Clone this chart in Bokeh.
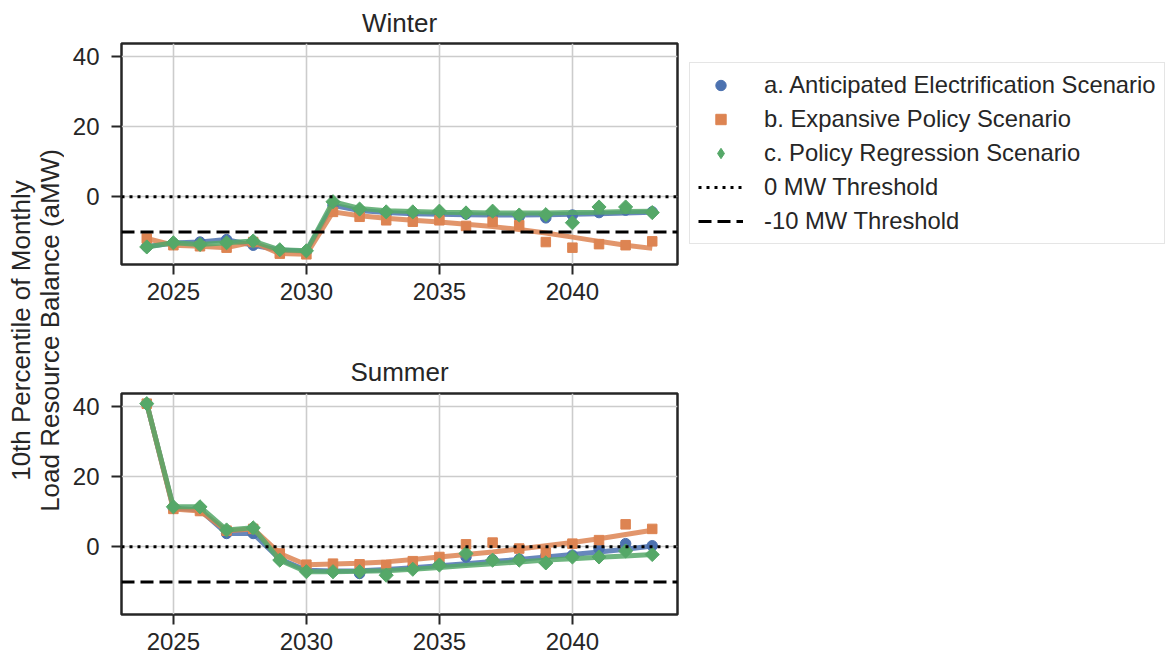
import numpy as np
from bokeh.plotting import figure
from bokeh.models import Range1d, FixedTicker, Span, Legend, LegendItem, Label
from bokeh.layouts import row, column
from bokeh.embed import file_html
from bokeh.resources import INLINE

years = list(range(2024, 2044))

# ---- Winter: scenario points ----
winter_a_pts = [-14.2, -13.2, -12.9, -12.2, -13.8, -15.2, -15.5, -2.4, -4.1, -4.8,
                -4.7, -4.7, -4.9, -5.0, -5.7, -6.0, -5.2, -4.5, -3.8, -4.3]
winter_b_pts = [-11.9, -13.8, -14.1, -14.5, -12.9, -16.2, -16.4, -4.3, -5.7, -6.7,
                -7.1, -6.7, -8.3, -7.1, -8.1, -12.9, -14.5, -13.5, -13.8, -12.7]
winter_c_pts = [-14.3, -13.1, -13.6, -13.1, -12.6, -15.1, -15.4, -1.4, -3.5, -4.3,
                -4.3, -4.1, -4.6, -4.1, -5.2, -5.1, -7.4, -2.9, -2.9, -4.5]
# ---- Winter: trend lines ----
winter_a_line = [-14.2, -13.2, -12.9, -12.2, -13.8, -15.2, -15.5, -2.4, -3.9, -4.5,
                 -4.8, -5.0, -5.1, -5.2, -5.2, -5.1, -5.0, -4.8, -4.6, -4.4]
winter_b_line = [-11.9, -13.8, -14.1, -14.5, -12.9, -16.2, -16.4, -4.3, -5.4, -6.1,
                 -6.7, -7.2, -7.8, -8.5, -9.3, -10.3, -11.5, -12.7, -13.8, -14.7]
winter_c_line = [-14.3, -13.1, -13.6, -13.1, -12.6, -15.1, -15.4, -1.4, -3.3, -4.0,
                 -4.2, -4.4, -4.5, -4.6, -4.6, -4.6, -4.5, -4.4, -4.2, -4.1]

# ---- Summer: scenario points ----
summer_a_pts = [40.8, 11.0, 10.5, 3.8, 3.8, -3.5, -6.7, -7.0, -7.6, -7.2,
                -5.8, -5.0, -2.9, -3.7, -3.5, -2.6, -2.4, -0.5, 0.9, 0.3]
summer_b_pts = [40.8, 10.8, 10.2, 4.6, 5.1, -1.9, -5.1, -4.8, -5.0, -5.2,
                -4.1, -2.9, 0.7, 1.2, -0.5, -1.7, 0.9, 1.9, 6.4, 5.1]
summer_c_pts = [40.8, 11.4, 11.4, 4.8, 5.4, -3.8, -7.1, -7.1, -7.1, -8.1,
                -6.4, -5.2, -1.9, -3.8, -3.8, -4.6, -2.9, -2.9, -1.2, -2.2]
# ---- Summer: trend lines ----
summer_a_line = [40.8, 11.0, 10.5, 3.8, 3.8, -3.5, -6.7, -6.9, -6.8, -6.5,
                 -6.0, -5.4, -4.8, -4.2, -3.6, -2.9, -2.2, -1.5, -0.7, 0.2]
summer_b_line = [40.8, 10.8, 10.2, 4.6, 5.1, -1.9, -5.1, -4.9, -4.7, -4.3,
                 -3.6, -2.9, -2.2, -1.5, -0.6, 0.3, 1.2, 2.3, 3.5, 4.7]
summer_c_line = [40.8, 11.4, 11.4, 4.8, 5.4, -3.8, -7.1, -7.1, -7.0, -6.8,
                 -6.4, -5.9, -5.3, -4.8, -4.3, -3.8, -3.4, -3.0, -2.6, -2.2]

scenario_labels = ["a. Anticipated Electrification Scenario",
                   "b. Expansive Policy Scenario",
                   "c. Policy Regression Scenario"]
threshold_labels = ["0 MW Threshold", "-10 MW Threshold"]
thresholds = [0, -10]
x_ticks = [2025, 2030, 2035, 2040]
y_ticks = [-20, 0, 20, 40]
y_label_lines = ["10th Percentile of Monthly", "Load Resource Balance (aMW)"]

COLORS = ["#4C72B0", "#DD8452", "#55A868"]
TXT = "#262626"
FONT = "Liberation Sans"
LABEL_W = 64
DOT = "3 5"
DASH = "13 6"
NAN2 = [np.nan, np.nan]


def make_panel(title_text, pts, lines, top, bottom, title_standoff, with_legend):
    p = figure(frame_width=556, frame_height=221,
               x_range=Range1d(2023.05, 2043.95), y_range=Range1d(-19.3, 43.7),
               output_backend="svg", toolbar_location=None,
               min_border_left=121 - LABEL_W, min_border_right=1165 - 121 - 556,
               min_border_top=top, min_border_bottom=bottom,
               title=title_text)
    p.title.align = "center"
    p.title.text_font = FONT
    p.title.text_font_size = "26px"
    p.title.text_font_style = "normal"
    p.title.text_color = TXT
    p.title.standoff = title_standoff
    p.background_fill_color = "white"
    p.border_fill_color = "white"
    p.outline_line_color = TXT
    p.outline_line_width = 2.5

    p.xaxis.ticker = FixedTicker(ticks=x_ticks)
    p.yaxis.ticker = FixedTicker(ticks=y_ticks)
    for ax in (p.xaxis[0], p.yaxis[0]):
        ax.axis_line_color = None
        ax.major_tick_line_color = TXT
        ax.major_tick_line_width = 2
        ax.major_tick_out = 10
        ax.major_tick_in = 0
        ax.minor_tick_line_color = None
        ax.major_label_text_font = FONT
        ax.major_label_text_font_size = "24px"
        ax.major_label_text_color = TXT
    p.xaxis[0].major_label_standoff = 8
    p.yaxis[0].major_label_standoff = 12
    p.grid.grid_line_color = "#cccccc"
    p.grid.grid_line_width = 1.6

    markers = [dict(marker="circle", size=10.5, angle=0),
               dict(marker="square", size=9.5, angle=0),
               dict(marker="square", size=10, angle=np.pi / 4)]
    scat = []
    for vals, lvals, col, mk in zip(pts, lines, COLORS, markers):
        p.line(years, lvals, line_color=col, line_width=5, line_alpha=0.85)
        r = p.scatter(years, vals, marker=mk["marker"], size=mk["size"],
                      angle=mk["angle"], fill_color=col, line_color=col)
        scat.append(r)

    p.add_layout(Span(location=thresholds[0], dimension="width", line_color="black",
                      line_width=3, line_dash=DOT))
    p.add_layout(Span(location=thresholds[1], dimension="width", line_color="black",
                      line_width=3, line_dash=DASH))

    if with_legend:
        # legend-only swatches (no data drawn)
        k_dia = p.scatter(x=NAN2, y=NAN2, marker="diamond", size=12,
                          fill_color=COLORS[2], line_color=COLORS[2])
        l_dot = p.line(x=NAN2, y=NAN2, line_color="black", line_width=3, line_dash=DOT)
        l_dash = p.line(x=NAN2, y=NAN2, line_color="black", line_width=3, line_dash=DASH)
        items = [LegendItem(label=scenario_labels[0], renderers=[scat[0]]),
                 LegendItem(label=scenario_labels[1], renderers=[scat[1]]),
                 LegendItem(label=scenario_labels[2], renderers=[k_dia]),
                 LegendItem(label=threshold_labels[0], renderers=[l_dot]),
                 LegendItem(label=threshold_labels[1], renderers=[l_dash])]
        legend = Legend(items=items, location=(12, 20), orientation="vertical",
                        label_text_font=FONT, label_text_font_size="23.8px",
                        label_text_color=TXT, glyph_width=45, glyph_height=26,
                        label_standoff=21, spacing=6, padding=8, margin=0,
                        border_line_color="#cccccc", border_line_width=1.5,
                        background_fill_color="white", background_fill_alpha=1.0)
        p.add_layout(legend, "right")
    return p


winter = make_panel("Winter", [winter_a_pts, winter_b_pts, winter_c_pts],
                    [winter_a_line, winter_b_line, winter_c_line], 42, 67, 11, True)
summer = make_panel("Summer", [summer_a_pts, summer_b_pts, summer_c_pts],
                    [summer_a_line, summer_b_line, summer_c_line], 62, 47, 14, False)

lab = figure(width=LABEL_W, height=660, x_range=Range1d(0, LABEL_W), y_range=Range1d(0, 660),
             output_backend="svg", toolbar_location=None, min_border=0,
             x_axis_location=None, y_axis_location=None)
lab.outline_line_color = None
lab.grid.visible = False
for xpos, txt in zip([20, 49], y_label_lines):
    lab.add_layout(Label(x=xpos, y=330, text=txt, angle=np.pi / 2,
                         text_align="center", text_baseline="middle",
                         text_font=FONT, text_font_size="26px", text_color=TXT))

layout = row(lab, column(winter, summer))
open("out.html", "w").write(file_html(layout, INLINE))
